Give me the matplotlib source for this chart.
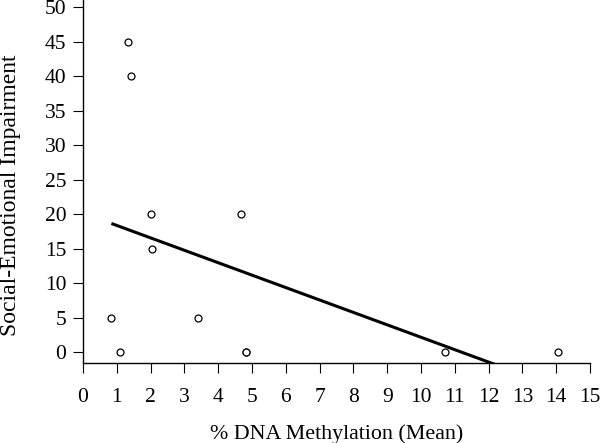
# Social-emotional impairment vs. mean DNA methylation, with linear fit
import numpy as np
import matplotlib
matplotlib.use("Agg")
import matplotlib.pyplot as plt

plt.rcParams['font.family'] = ['Liberation Serif', 'DejaVu Serif']

# data
methylation = [0.84, 1.08, 2.02, 2.05, 3.39, 4.68, 4.81, 4.81, 10.71, 14.05, 1.33, 1.42]
impairment = [5, 0, 20, 15, 5, 20, 0, 0, 0, 0, 45, 40]
x_ticks = list(range(0, 16))
y_ticks = list(range(0, 51, 5))

fig = plt.figure(figsize=(6, 4.43), dpi=100)
ax = fig.add_axes([83 / 600, 79.7 / 443, 507 / 600, 363.3 / 443])

ax.plot(methylation, impairment, linestyle='none', marker='o', markersize=5,
        markerfacecolor='white', markeredgecolor='black', markeredgewidth=0.9,
        zorder=3)

# least-squares fit line from the smallest x to the right edge
slope, intercept = np.polyfit(methylation, impairment, 1)
fit_x = np.array([min(methylation), 15])
ax.plot(fit_x, slope * fit_x + intercept, color='black', linewidth=2.2,
        solid_capstyle='butt', zorder=2)

ax.set_xlim(0, 15)
ax.set_ylim(-1.6, 51.06)
ax.set_xticks(x_ticks)
ax.set_yticks(y_ticks)
ax.spines['top'].set_visible(False)
ax.spines['right'].set_visible(False)
ax.spines['left'].set_linewidth(1)
ax.spines['bottom'].set_linewidth(1)
ax.tick_params(direction='out', length=7.5, width=0.8, labelsize=15.5, pad=4.5)
ax.tick_params(axis='x', pad=10)

ax.set_xlabel('% DNA Methylation (Mean)', fontsize=15.8, labelpad=13)
ax.set_ylabel('Social-Emotional Impairment', fontsize=17, labelpad=17)
ax.yaxis.label.set_y(0.463)

fig.savefig('out.png', dpi=100)
